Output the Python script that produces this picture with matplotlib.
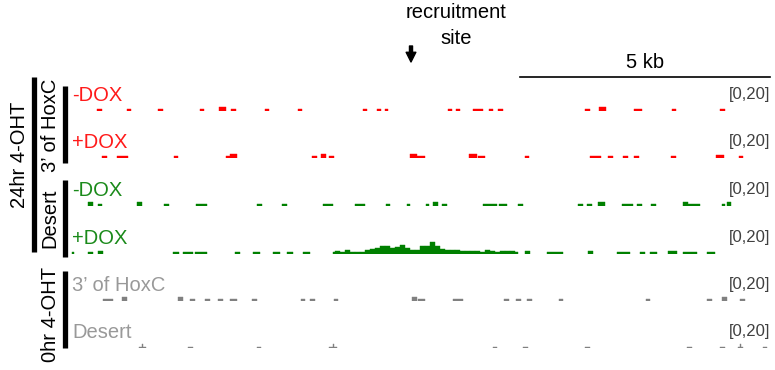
import matplotlib.pyplot as plt
from matplotlib.transforms import blended_transform_factory

# genome region shown, in kb
region_kb = (0.0, 14.0)
recruit_site_kb = 6.82
scale_bar_kb = (9.0, 14.0)
track_range = (0, 20)

# each track: (start_kb, end_kb, signal)
neg_dox_hoxc = [
    (0.54, 0.64, 1.1), (1.14, 1.22, 1.1), (1.76, 1.86, 1.1), (2.60, 2.68, 1.1),
    (2.98, 3.12, 2.0), (3.22, 3.32, 1.1), (3.90, 3.98, 1.1), (4.56, 4.64, 1.1),
    (5.86, 5.94, 1.1), (6.14, 6.22, 1.1), (6.30, 6.36, 1.1), (7.56, 7.64, 1.1),
    (7.72, 7.80, 1.1), (8.06, 8.26, 1.1), (8.38, 8.46, 1.1), (8.56, 8.66, 1.1),
    (10.30, 10.40, 1.1), (10.58, 10.72, 2.4), (11.28, 11.44, 1.2),
    (12.04, 12.12, 1.1), (13.00, 13.10, 1.1),
]
pos_dox_hoxc = [
    (0.64, 0.74, 1.1), (0.94, 1.16, 1.1), (2.08, 2.16, 1.1), (3.12, 3.20, 1.1),
    (3.20, 3.34, 2.0), (4.84, 4.94, 1.1), (5.02, 5.12, 2.0), (5.18, 5.28, 1.1),
    (6.80, 6.94, 2.0), (6.94, 7.10, 1.1), (7.98, 8.14, 2.0), (8.16, 8.30, 1.2),
    (9.10, 9.18, 1.1), (10.40, 10.62, 1.2), (10.76, 10.86, 1.1),
    (11.06, 11.16, 1.1), (11.28, 11.38, 1.1), (12.02, 12.12, 1.1),
    (12.92, 13.08, 1.5), (13.38, 13.46, 1.1),
]
neg_dox_desert = [
    (0.36, 0.46, 2.0), (0.56, 0.64, 1.1), (1.34, 1.44, 2.0), (1.88, 1.98, 1.1),
    (2.52, 2.74, 1.2), (3.74, 3.84, 1.1), (4.24, 4.34, 1.1), (5.06, 5.26, 1.2),
    (5.70, 5.90, 1.2), (6.32, 6.40, 1.1), (6.74, 6.80, 1.1), (7.12, 7.18, 1.1),
    (7.26, 7.36, 2.0), (7.44, 7.54, 1.1), (8.26, 8.54, 1.2), (8.58, 8.74, 1.1),
    (8.96, 9.06, 1.1), (10.16, 10.26, 1.1), (10.34, 10.44, 1.1),
    (10.56, 10.70, 2.2), (11.04, 11.26, 1.2), (11.34, 11.44, 1.1),
    (11.62, 11.72, 1.1), (12.26, 12.36, 2.2), (12.36, 12.60, 1.2),
    (13.04, 13.10, 1.1), (13.14, 13.22, 2.4),
]
pos_dox_desert = [
    (0.04, 0.08, 1.1), (0.36, 0.46, 1.2), (0.56, 0.66, 1.8), (2.06, 2.18, 1.2),
    (2.26, 2.46, 1.2), (2.50, 2.74, 1.2), (3.30, 3.40, 1.2), (3.66, 3.80, 1.2),
    (4.06, 4.20, 1.2), (4.34, 4.46, 1.2), (4.66, 4.80, 1.2),
    # broad enrichment around the recruitment site
    (5.26, 5.30, 1.2), (5.30, 5.40, 1.8), (5.40, 5.50, 0.9), (5.50, 5.60, 2.0),
    (5.60, 5.70, 1.0), (5.70, 5.80, 1.0), (5.80, 5.90, 1.2), (5.90, 6.00, 2.2),
    (6.00, 6.10, 2.8), (6.10, 6.20, 3.1), (6.20, 6.30, 4.2), (6.30, 6.40, 4.5),
    (6.40, 6.50, 3.6), (6.50, 6.60, 3.9), (6.60, 6.70, 5.0), (6.70, 6.80, 3.1),
    (6.80, 6.90, 2.2), (6.90, 7.00, 2.5), (7.00, 7.10, 4.2), (7.10, 7.20, 4.5),
    (7.20, 7.30, 6.7), (7.30, 7.40, 4.5), (7.40, 7.50, 2.8), (7.50, 7.60, 2.2),
    (7.60, 7.70, 2.2), (7.70, 7.80, 2.0), (7.80, 7.90, 1.8), (7.90, 8.00, 1.4),
    (8.00, 8.10, 1.4), (8.10, 8.20, 1.8), (8.20, 8.30, 1.2), (8.30, 8.40, 2.0),
    (8.40, 8.50, 1.8), (8.50, 8.60, 1.2), (8.60, 8.70, 1.8), (8.70, 8.80, 1.8),
    (8.80, 8.90, 1.4), (8.90, 8.95, 1.2),
    (9.10, 9.20, 1.8), (9.54, 9.86, 1.2), (10.36, 10.46, 1.8), (10.94, 11.20, 1.2),
    (11.40, 11.50, 1.2), (11.60, 11.74, 1.2), (11.96, 12.14, 1.6),
    (12.26, 12.54, 1.2), (12.74, 12.90, 1.2),
]
hoxc_0hr = [
    (0.66, 0.86, 1.2), (1.04, 1.14, 2.0), (2.16, 2.26, 2.0), (2.40, 2.50, 1.2),
    (2.70, 2.80, 1.2), (2.96, 3.06, 1.2), (3.20, 3.34, 1.2), (3.64, 3.74, 1.2),
    (4.62, 4.70, 1.2), (4.80, 4.90, 1.2), (5.28, 5.36, 1.2), (6.84, 6.94, 2.2),
    (6.96, 7.10, 1.2), (7.66, 7.86, 1.2), (8.68, 8.78, 1.2), (8.92, 9.02, 1.2),
    (9.14, 9.24, 1.2), (9.78, 9.86, 1.2), (11.52, 11.60, 1.2),
    (12.74, 12.84, 1.2), (13.04, 13.14, 2.4), (13.40, 13.50, 1.2),
]
desert_0hr = [
    (1.38, 1.52, 0.8), (1.44, 1.46, 2.5), (2.36, 2.46, 0.8), (3.74, 3.82, 0.8),
    (5.18, 5.34, 0.8), (5.25, 5.27, 2.5), (8.46, 8.54, 0.8), (9.06, 9.16, 0.8),
    (10.30, 10.40, 0.8), (12.34, 12.44, 0.8), (13.00, 13.10, 0.8),
    (13.36, 13.46, 0.8), (13.40, 13.42, 2.5), (13.86, 13.94, 0.8),
]

tracks = [neg_dox_hoxc, pos_dox_hoxc, neg_dox_desert, pos_dox_desert, hoxc_0hr, desert_0hr]
track_labels = ["-DOX", "+DOX", "-DOX", "+DOX", "3\u2019 of HoxC", "Desert"]
track_colors = ["#ff0000", "#ff0000", "#008000", "#008000", "#808080", "#808080"]
label_colors = ["#ff1a1a", "#ff1a1a", "#1a8a1a", "#1a8a1a", "#999999", "#999999"]

plt.rcParams["font.family"] = ["Liberation Sans", "DejaVu Sans"]

W, H = 775, 370
fig = plt.figure(figsize=(W / 100, H / 100), dpi=100)

baselines = [111, 158, 206, 254, 301, 348]
track_h = 36
axes = []
for segs, lab, col, lcol, base in zip(tracks, track_labels, track_colors, label_colors, baselines):
    ax = fig.add_axes([70 / W, 1 - base / H, 700 / W, track_h / H])
    starts = [s[0] for s in segs]
    widths = [s[1] - s[0] for s in segs]
    vals = [s[2] for s in segs]
    ax.bar(starts, vals, width=widths, align="edge", color=col, edgecolor=col,
           linewidth=0.3)
    ax.set_xlim(*region_kb)
    ax.set_ylim(*track_range)
    ax.axis("off")
    ax.text(0.003, 0.44, lab, transform=ax.transAxes, color=lcol,
            fontsize=14.5, ha="left", va="center")
    ax.text(1.0, 0.47, f"[{track_range[0]},{track_range[1]}]", transform=ax.transAxes,
            color="#404040", fontsize=12, ha="right", va="center")
    axes.append(ax)

top = axes[0]
tr = blended_transform_factory(top.transData, fig.transFigure)

# scale bar
top.plot(scale_bar_kb, [1 - 77 / H] * 2, color="black", lw=1.2, transform=tr, clip_on=False)
top.text(sum(scale_bar_kb) / 2, 1 - 62 / H, "5 kb", transform=tr, ha="center", va="center",
         fontsize=14.5)

# recruitment site
top.text(recruit_site_kb + 0.9, 1 - 12 / H, "recruitment", transform=tr, ha="center",
         va="center", fontsize=14.5)
top.text(recruit_site_kb + 0.9, 1 - 38 / H, "site", transform=tr, ha="center",
         va="center", fontsize=14.5)
top.annotate("", xy=(recruit_site_kb, 1 - 62 / H), xycoords=tr,
             xytext=(recruit_site_kb, 1 - 46 / H), textcoords=tr,
             arrowprops=dict(facecolor="black", edgecolor="black", width=2.2,
                             headwidth=7, headlength=7, shrink=0))

# group brackets on the left
lab_ax = fig.add_axes([0, 0, 1, 1])
lab_ax.set_xlim(0, W)
lab_ax.set_ylim(H, 0)
lab_ax.axis("off")
lab_ax.patch.set_alpha(0)
brackets = [
    (34, 77, 252, 20, 155, "24hr 4-OHT"),
    (65, 86, 163, 50, 125, "3\u2019 of HoxC"),
    (65, 180, 257, 50, 218, "Desert"),
    (65, 271, 348, 50, 314, "0hr 4-OHT"),
]
for bx, y0, y1, tx, ty, txt in brackets:
    lab_ax.plot([bx, bx], [y0, y1], color="black", lw=3.8, solid_capstyle="butt")
    lab_ax.text(tx, ty, txt, rotation=90, ha="center", va="center", fontsize=14.5)

fig.savefig("out.png", dpi=100)
